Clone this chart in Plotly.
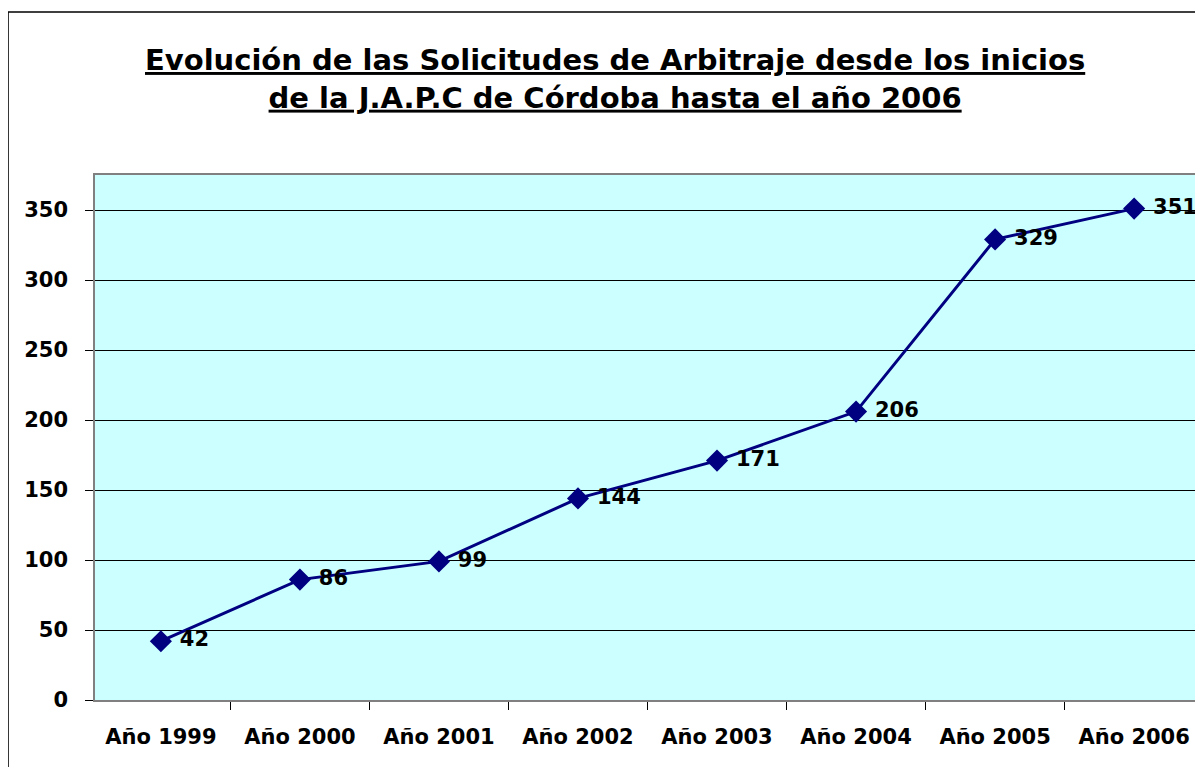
import plotly.graph_objects as go

years = ["Año 1999", "Año 2000", "Año 2001", "Año 2002",
         "Año 2003", "Año 2004", "Año 2005", "Año 2006"]
requests = [42, 86, 99, 144, 171, 206, 329, 351]
y_ticks = [0, 50, 100, 150, 200, 250, 300, 350]

title = ("Evolución de las Solicitudes de Arbitraje desde los inicios"
         "<br>de la J.A.P.C de Córdoba hasta el año 2006")

navy = "#000080"
font_face = "DejaVu Sans"

fig = go.Figure(go.Scatter(
    x=years, y=requests, mode="lines+markers+text",
    line=dict(color=navy, width=3),
    marker=dict(symbol="diamond", size=17, color=navy),
    text=[" " + str(v) for v in requests], textposition="middle right",
    textfont=dict(family=font_face, size=21, color="black", weight="bold"),
    cliponaxis=False, showlegend=False,
))

# the page body has an 8px margin, so the figure is 8px smaller than the window
fig.update_layout(
    width=1195, height=759,
    margin=dict(l=87, r=3, t=167, b=67, autoexpand=False),
    paper_bgcolor="white", plot_bgcolor="#CCFFFF",
    font=dict(family=font_face, color="black"),
    annotations=[dict(
        text=title, xref="paper", yref="paper", x=0.4706, y=1.256,
        xanchor="center", yanchor="top", showarrow=False,
        font=dict(family=font_face, size=29, weight="bold", color="black",
                  lineposition="under"),
    )],
    shapes=[dict(type="rect", xref="paper", yref="paper",
                 x0=-0.0787, x1=1.02, y0=-0.2, y1=1.3105,
                 line=dict(color="black", width=1.5), layer="below")],
)

fig.update_xaxes(
    type="category", tickson="boundaries", ticks="outside", ticklen=8,
    tickcolor="black", showgrid=False, showline=True, linecolor="#808080",
    linewidth=1.5, mirror=True, ticklabelstandoff=17,
    tickfont=dict(family=font_face, size=21, weight="bold"),
)
fig.update_yaxes(
    range=[0, 375], tickvals=y_ticks, ticks="outside", ticklen=8,
    tickcolor="black", showgrid=True, gridcolor="black", gridwidth=1,
    showline=True, linecolor="#808080", linewidth=1.5, mirror=True,
    zeroline=False, ticklabelstandoff=13,
    tickfont=dict(family=font_face, size=21, weight="bold"),
)

fig.write_html("out.html")
